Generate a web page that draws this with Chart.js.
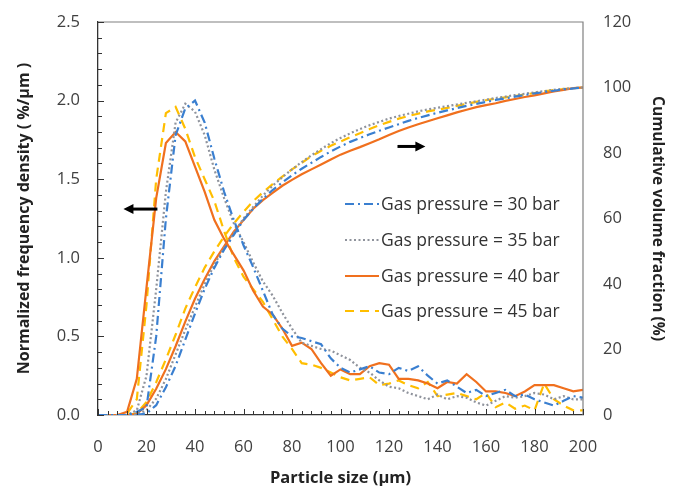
<!DOCTYPE html>
<html>
<head>
<meta charset="utf-8">
<script src="https://cdn.jsdelivr.net/npm/chart.js@4.4.1/dist/chart.umd.min.js"></script>
<style>
  html, body { margin: 0; padding: 0; background: #fff; }
  #wrap { width: 677px; height: 486px; }
</style>
</head>
<body>
<div id="wrap"><canvas id="psdChart"></canvas></div>
<script>
// particle size (um)
const sizes = [0,4,8,12,16,20,24,28,32,36,40,44,48,52,56,60,64,68,72,76,80,84,88,92,96,100,
  104,108,112,116,120,124,128,132,136,140,144,148,152,156,160,164,168,172,176,180,184,188,192,196,200];

const seriesNames = ['Gas pressure = 30 bar', 'Gas pressure = 35 bar', 'Gas pressure = 40 bar', 'Gas pressure = 45 bar'];

// normalized frequency density (%/um)
const freq30 = [0,0,0,0,0.02,0.05,0.50,1.25,1.78,1.95,2.00,1.86,1.63,1.42,1.24,1.08,0.94,0.79,0.64,0.55,0.50,0.49,0.47,0.45,0.36,0.30,
  0.27,0.29,0.31,0.27,0.26,0.30,0.28,0.31,0.25,0.20,0.22,0.18,0.14,0.16,0.12,0.14,0.16,0.12,0.13,0.10,0.08,0.06,0.09,0.12,0.11];
const freq35 = [0,0,0,0,0.03,0.25,0.80,1.42,1.86,1.98,1.93,1.78,1.56,1.38,1.22,1.10,0.97,0.85,0.76,0.65,0.55,0.46,0.44,0.42,0.41,0.38,
  0.35,0.30,0.27,0.22,0.18,0.17,0.14,0.12,0.10,0.13,0.10,0.12,0.11,0.08,0.06,0.09,0.12,0.11,0.12,0.14,0.13,0.10,0.12,0.10,0.10];
const freq40 = [0,0,0,0.02,0.23,0.81,1.38,1.73,1.80,1.74,1.58,1.42,1.24,1.12,1.02,0.92,0.79,0.69,0.64,0.55,0.44,0.46,0.42,0.33,0.25,0.29,
  0.26,0.26,0.31,0.33,0.32,0.23,0.23,0.22,0.20,0.17,0.21,0.20,0.26,0.21,0.15,0.15,0.14,0.12,0.15,0.19,0.19,0.19,0.17,0.15,0.16];
const freq45 = [0,0,0,0.01,0.10,0.70,1.50,1.92,1.96,1.82,1.64,1.50,1.36,1.17,1.00,0.88,0.80,0.72,0.61,0.50,0.42,0.33,0.32,0.30,0.27,0.24,
  0.22,0.23,0.24,0.19,0.20,0.22,0.19,0.17,0.21,0.12,0.13,0.14,0.12,0.10,0.14,0.05,0.08,0.04,0.06,0.03,0.20,0.10,0.06,0.03,0.03];

// cumulative volume fraction (%)
const cum30 = [0,0,0,0,0,0.5,3,8.5,15,23,31,38.5,45,50.5,55,59.5,63,66,68.7,71,73.2,75.2,77,78.8,80.5,82,
  83.4,84.6,85.7,86.8,87.8,88.8,89.8,90.7,91.5,92.3,93,93.7,94.4,95,95.6,96.2,96.7,97.2,97.7,98.2,98.6,99,99.4,99.7,100];
const cum35 = [0,0,0,0,0.1,1.5,5,11,18.5,26,33,40,46,51,55.5,60,63.5,67,70,72.6,75,77.2,79.3,81.2,83,84.6,
  86,87.3,88.5,89.5,90.5,91.3,92,92.7,93.3,93.8,94.3,94.8,95.3,95.8,96.3,96.8,97.2,97.7,98.1,98.5,98.9,99.3,99.6,99.8,100];
const cum40 = [0,0,0,0,0.3,3,8,14,21,28.5,35.5,41.5,47,51.5,56,59.5,63,65.6,67.8,70,71.8,73.5,75,76.5,78,79.5,
  80.7,81.8,83,84.2,85.5,86.7,87.8,88.8,89.7,90.6,91.5,92.4,93.2,94,94.6,95.2,95.9,96.5,97.1,97.6,98.2,98.8,99.3,99.8,100];
const cum45 = [0,0,0,0,0.5,4,10,17,24.5,32.5,39,45,50,54.5,58.5,62,65.3,68,70.5,72.8,75,77,79,80.7,82.2,83.5,
  84.8,86,87.3,88.5,89.5,90.5,91.3,92,92.7,93.2,93.8,94.4,95,95.6,96.1,96.6,97,97.4,97.9,98.3,98.8,99.2,99.5,99.8,100];

const xTicks = [0,20,40,60,80,100,120,140,160,180,200];

const FONT = '"Open Sans", sans-serif';

const styles = [
  { color: '#3a7fd0', dash: [9, 4, 2, 4] },
  { color: '#8f939c', dash: [2, 2.5] },
  { color: '#f0701e', dash: [] },
  { color: '#ffbe00', dash: [9, 6] }
];

const pts = arr => sizes.map((s, i) => ({ x: s, y: arr[i] }));

function line(label, arr, st, axis) {
  return {
    label: label,
    data: pts(arr),
    yAxisID: axis,
    borderColor: st.color,
    borderDash: st.dash,
    borderWidth: 2.2,
    pointRadius: 0,
    tension: 0,
    fill: false
  };
}

const freqs = [freq30, freq35, freq40, freq45];
const cums = [cum30, cum35, cum40, cum45];
const datasets = [];
freqs.forEach((f, i) => datasets.push(line(seriesNames[i], f, styles[i], 'y')));
cums.forEach((c, i) => datasets.push(line(seriesNames[i] + ' (cum)', c, styles[i], 'y2')));

// box, inside ticks, legend and the two arrows
const decor = {
  id: 'decor',
  afterDatasetsDraw(chart) {
    const ctx = chart.ctx;
    const a = chart.chartArea;
    const x = chart.scales.x, y = chart.scales.y, y2 = chart.scales.y2;
    ctx.save();

    // top + right frame
    ctx.strokeStyle = '#808080';
    ctx.lineWidth = 1.2;
    ctx.beginPath();
    ctx.moveTo(a.left, a.top); ctx.lineTo(a.right, a.top); ctx.lineTo(a.right, a.bottom);
    ctx.stroke();

    // minor ticks
    ctx.strokeStyle = '#333';
    ctx.lineWidth = 1;
    ctx.beginPath();
    for (let v = 0; v <= 200; v += 4) {
      const px = Math.round(x.getPixelForValue(v)) + 0.5;
      ctx.moveTo(px, a.bottom); ctx.lineTo(px, a.bottom - (v % 20 === 0 ? 6 : 4));
    }
    for (let k = 0; k <= 25; k++) {
      const py = Math.round(y.getPixelForValue(k / 10)) + 0.5;
      ctx.moveTo(a.left, py); ctx.lineTo(a.left + (k % 5 === 0 ? 6 : 4), py);
    }
    ctx.stroke();

    // arrows
    function arrow(x0, x1, py) {
      const p0 = x.getPixelForValue(x0), p1 = x.getPixelForValue(x1);
      const d = Math.sign(p1 - p0);
      ctx.strokeStyle = '#000'; ctx.fillStyle = '#000';
      ctx.lineWidth = 3;
      ctx.beginPath(); ctx.moveTo(p0, py); ctx.lineTo(p1 - d * 8, py); ctx.stroke();
      ctx.beginPath();
      ctx.moveTo(p1, py); ctx.lineTo(p1 - d * 10, py - 5); ctx.lineTo(p1 - d * 10, py + 5);
      ctx.closePath(); ctx.fill();
    }
    arrow(24.5, 10.5, y.getPixelForValue(1.31));
    arrow(123.5, 135, y2.getPixelForValue(82));

    // legend
    ctx.font = '17.5px ' + FONT;
    ctx.textBaseline = 'middle';
    ctx.fillStyle = '#333';
    const lx = a.left + 247, rowY = [204, 240, 276, 311];
    styles.forEach((st, i) => {
      ctx.strokeStyle = st.color;
      ctx.lineWidth = 2.2;
      ctx.setLineDash(st.dash);
      ctx.beginPath(); ctx.moveTo(lx, rowY[i]); ctx.lineTo(lx + 34, rowY[i]); ctx.stroke();
      ctx.setLineDash([]);
      ctx.fillText(seriesNames[i], lx + 36, rowY[i] + 1);
    });
    ctx.restore();
  }
};

new Chart(document.getElementById('psdChart'), {
  type: 'line',
  data: { datasets: datasets },
  options: {
    responsive: true,
    maintainAspectRatio: false,
    animation: false,
    layout: { padding: { top: 22, left: 0, right: 0, bottom: 0 } },
    plugins: { legend: { display: false }, tooltip: { enabled: false } },
    scales: {
      x: {
        type: 'linear',
        min: 0, max: 200,
        afterBuildTicks: s => { s.ticks = xTicks.map(v => ({ value: v })); },
        afterFit: s => { s.height = 71; },
        grid: { display: false },
        border: { display: true, color: '#333', width: 1.3 },
        ticks: { font: { family: FONT, size: 16.5 }, color: '#404040', padding: 14, maxRotation: 0 },
        title: { display: true, text: 'Particle size (μm)', font: { family: FONT, size: 16.5, weight: 'bold' }, color: '#222', padding: { top: 4, bottom: -2 } }
      },
      y: {
        position: 'left',
        min: 0, max: 2.5,
        afterFit: s => { s.width = 98; },
        grid: { display: false },
        border: { display: true, color: '#333', width: 1.3 },
        ticks: { stepSize: 0.5, callback: v => v.toFixed(1), font: { family: FONT, size: 16.5 }, color: '#404040', padding: 10 },
        title: { display: true, text: 'Normalized frequency density ( %/μm )', font: { family: FONT, size: 16, weight: 'bold' }, color: '#222', padding: { top: 15, bottom: 4 } }
      },
      y2: {
        position: 'right',
        min: 0, max: 120,
        afterFit: s => { s.width = 94; },
        grid: { display: false },
        border: { display: false },
        ticks: { stepSize: 20, font: { family: FONT, size: 16.5 }, color: '#404040', padding: 12 },
        title: { display: true, text: 'Cumulative volume fraction (%)', font: { family: FONT, size: 15.5, weight: 'bold' }, color: '#222', padding: { top: 10, bottom: 4 } }
      }
    }
  },
  plugins: [decor]
});
</script>
</body>
</html>
